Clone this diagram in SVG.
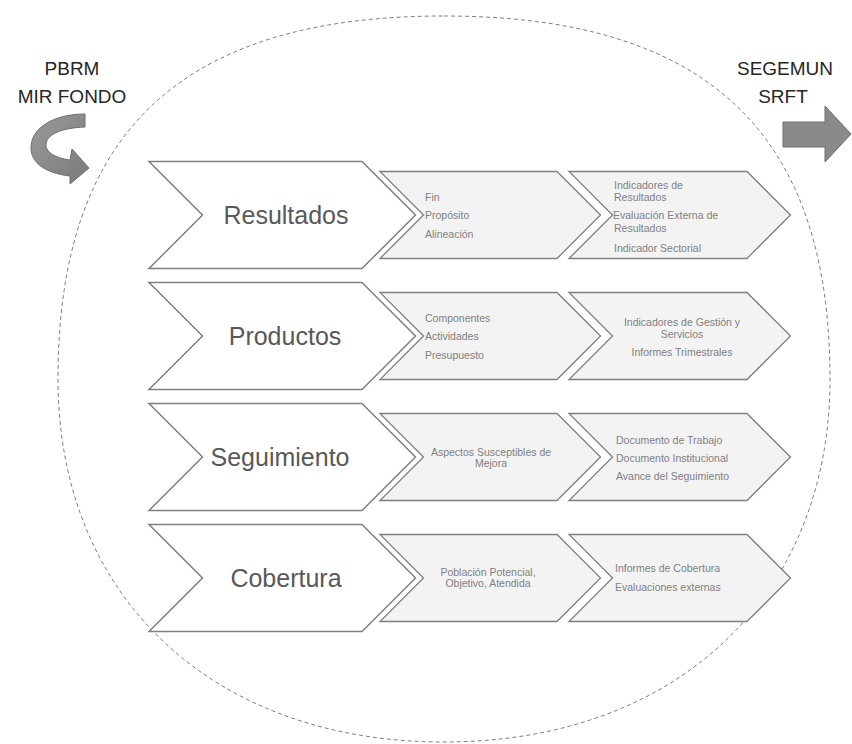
<svg xmlns="http://www.w3.org/2000/svg" xmlns:xlink="http://www.w3.org/1999/xlink" width="852" height="744" viewBox="0 0 852 744">
<style>
.big{fill:#ffffff;stroke:#7f7f7f;stroke-width:1.5}
.sm{fill:#f3f3f3;stroke:#7f7f7f;stroke-width:1.3}
.bt{font-family:"Liberation Sans",Arial,sans-serif;font-size:25px;fill:#595959;text-anchor:middle}
.st{font-family:"Liberation Sans",Arial,sans-serif;font-size:10.5px;fill:#7f7f7f}
.c{text-anchor:middle}
.hd{font-family:"Liberation Sans",Arial,sans-serif;font-size:19px;fill:#262626;text-anchor:middle}
</style>
<defs>
<path id="bigc" d="M149,-53.5 L362,-53.5 L415.5,0 L362,53.5 L149,53.5 L202.5,0 Z"/>
<path id="midc" d="M380,-43.5 L557,-43.5 L600.5,0 L557,43.5 L380,43.5 L423.5,0 Z"/>
<path id="rgtc" d="M569,-43.5 L747,-43.5 L790.5,0 L747,43.5 L569,43.5 L612.5,0 Z"/>
<linearGradient id="ga" x1="0" y1="0" x2="1" y2="1">
<stop offset="0" stop-color="#9a9a9a"/>
<stop offset="1" stop-color="#7a7a7a"/>
</linearGradient>
</defs>

<g id="boundary">
<path d="M444,16 C706.5,16 830,132 830,379 C830,596.8 675.6,742 444,742 C212.4,742 58,596.8 58,379 C58,132 181.5,16 444,16 Z" fill="none" stroke="#7f7f7f" stroke-width="1" stroke-dasharray="4,3"/>
</g>

<g id="input">
<text class="hd" x="72" y="75">PBRM</text>
<text class="hd" x="72" y="103">MIR FONDO</text>
<path d="M85,114 L85,127 C60,128 46,135 46,145 C46,152 55,158 70,160 L72,149 L89,168 L70,184 L70,176 C44,173 31,162 31,148 C31,127 55,114 85,114 Z" fill="url(#ga)" stroke="#6f6f6f" stroke-width="1"/>
</g>

<g id="output">
<text class="hd" x="785" y="75">SEGEMUN</text>
<text class="hd" x="783" y="103">SRFT</text>
<path d="M783,122 L825,122 L825,106 L851,134 L825,162 L825,147 L783,147 Z" fill="#8a8a8a" stroke="#6f6f6f" stroke-width="1"/>
</g>

<g id="resultados">
<use xlink:href="#bigc" class="big" transform="translate(0,215)"/>
<text class="bt" x="286" y="224">Resultados</text>
</g>
<g id="resultados-medios">
<use xlink:href="#midc" class="sm" transform="translate(0,215)"/>
<text class="st" x="425" y="200.5">Fin</text>
<text class="st" x="425" y="219">Propósito</text>
<text class="st" x="425" y="238">Alineación</text>
</g>
<g id="resultados-fuentes">
<use xlink:href="#rgtc" class="sm" transform="translate(0,215)"/>
<text class="st" x="614" y="189">Indicadores de</text>
<text class="st" x="614" y="201">Resultados</text>
<text class="st" x="613" y="219">Evaluación Externa de</text>
<text class="st" x="614" y="232">Resultados</text>
<text class="st" x="614" y="252">Indicador Sectorial</text>
</g>

<g id="productos">
<use xlink:href="#bigc" class="big" transform="translate(0,336)"/>
<text class="bt" x="285" y="345">Productos</text>
</g>
<g id="productos-medios">
<use xlink:href="#midc" class="sm" transform="translate(0,336)"/>
<text class="st" x="425" y="321.5">Componentes</text>
<text class="st" x="425" y="340">Actividades</text>
<text class="st" x="425" y="359">Presupuesto</text>
</g>
<g id="productos-fuentes">
<use xlink:href="#rgtc" class="sm" transform="translate(0,336)"/>
<text class="st c" x="682" y="326">Indicadores de Gestión y</text>
<text class="st c" x="682" y="338">Servicios</text>
<text class="st c" x="682" y="356">Informes Trimestrales</text>
</g>

<g id="seguimiento">
<use xlink:href="#bigc" class="big" transform="translate(0,457)"/>
<text class="bt" x="280" y="466">Seguimiento</text>
</g>
<g id="seguimiento-medios">
<use xlink:href="#midc" class="sm" transform="translate(0,457)"/>
<text class="st c" x="491" y="455.5">Aspectos Susceptibles de</text>
<text class="st c" x="491" y="467">Mejora</text>
</g>
<g id="seguimiento-fuentes">
<use xlink:href="#rgtc" class="sm" transform="translate(0,457)"/>
<text class="st" x="616" y="444">Documento de Trabajo</text>
<text class="st" x="616" y="462">Documento Institucional</text>
<text class="st" x="616" y="480">Avance del Seguimiento</text>
</g>

<g id="cobertura">
<use xlink:href="#bigc" class="big" transform="translate(0,578)"/>
<text class="bt" x="286" y="587">Cobertura</text>
</g>
<g id="cobertura-medios">
<use xlink:href="#midc" class="sm" transform="translate(0,578)"/>
<text class="st c" x="488" y="575.5">Población Potencial,</text>
<text class="st c" x="488" y="587">Objetivo, Atendida</text>
</g>
<g id="cobertura-fuentes">
<use xlink:href="#rgtc" class="sm" transform="translate(0,578)"/>
<text class="st" x="615" y="572">Informes de Cobertura</text>
<text class="st" x="615" y="591">Evaluaciones externas</text>
</g>

<g id="connectors"></g>
</svg>
